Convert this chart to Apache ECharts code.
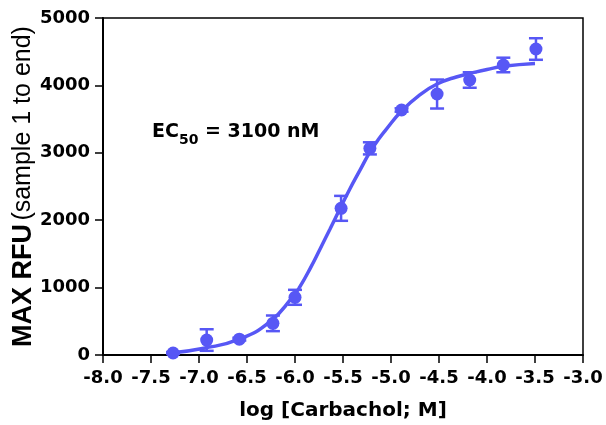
<!DOCTYPE html>
<html>
<head>
<meta charset="utf-8">
<script src="https://cdn.jsdelivr.net/npm/echarts@6/dist/echarts.min.js"></script>
<style>
  html, body { margin: 0; padding: 0; background: #fff; }
  #chart { width: 606px; height: 425px; }
</style>
</head>
<body>
<div id="chart"></div>
<script>
// measured points: log concentration, mean RFU, error (+/-)
const logConc = [-7.27, -6.92, -6.58, -6.23, -6.0, -5.52, -5.22, -4.89, -4.52, -4.18, -3.83, -3.49]
const meanRfu = [30, 222, 235, 470, 856, 2176, 3066, 3635, 3872, 4080, 4303, 4540]
const errRfu = [15, 160, 20, 116, 111, 185, 90, 25, 215, 115, 108, 160]

// fitted curve
const curveX = [-7.27, -6.95, -6.58, -6.26, -6.02, -5.95, -5.84, -5.74, -5.635, -5.53, -5.43, -5.32, -5.22, -5.13, -5.06, -4.89, -4.70, -4.52, -4.32, -4.11, -4.0, -3.83, -3.5]
const curveY = [35, 100, 235, 495, 870, 1010, 1290, 1570, 1870, 2176, 2460, 2750, 3010, 3200, 3330, 3620, 3860, 4020, 4125, 4200, 4235, 4283, 4325]

const xTicks = [-8.0, -7.5, -7.0, -6.5, -6.0, -5.5, -5.0, -4.5, -4.0, -3.5, -3.0]
const yTicks = [0, 1000, 2000, 3000, 4000, 5000]

const blue = '#5757f5'
const tickFont = 'DejaVu Sans'

const chart = echarts.init(document.getElementById('chart'), null, { renderer: 'canvas' })

chart.setOption({
  animation: false,
  grid: {
    left: 103,
    right: 23,
    top: 18,
    bottom: 70,
    outerBoundsMode: 'none',
    show: true,
    borderColor: '#000',
    borderWidth: 1.5
  },
  xAxis: {
    type: 'value',
    min: xTicks[0],
    max: xTicks[xTicks.length - 1],
    interval: 0.5,
    name: 'log [Carbachol; M]',
    nameLocation: 'middle',
    nameGap: 46,
    nameMoveOverlap: false,
    nameTextStyle: { fontFamily: tickFont, fontWeight: 'bold', fontSize: 20, color: '#000' },
    axisLine: { lineStyle: { color: '#000', width: 2 } },
    axisTick: { length: 8, lineStyle: { color: '#000', width: 1.5 } },
    splitLine: { show: false },
    axisLabel: {
      margin: 14,
      color: '#000',
      fontFamily: tickFont,
      fontWeight: 'bold',
      fontSize: 18,
      formatter: (v) => v.toFixed(1)
    }
  },
  yAxis: {
    type: 'value',
    min: yTicks[0],
    max: yTicks[yTicks.length - 1],
    interval: 1000,
    name: '{b|MAX RFU} {n|(sample 1 to end)}',
    nameLocation: 'middle',
    nameGap: 66,
    nameMoveOverlap: false,
    nameTextStyle: {
      rich: {
        b: { fontFamily: 'Liberation Sans', fontWeight: 'bold', fontSize: 27, color: '#000' },
        n: { fontFamily: 'Liberation Sans', fontSize: 25, color: '#000' }
      }
    },
    axisLine: { show: true, lineStyle: { color: '#000', width: 2 } },
    axisTick: { show: true, length: 8, lineStyle: { color: '#000', width: 1.5 } },
    splitLine: { show: false },
    axisLabel: {
      margin: 13,
      color: '#000',
      fontFamily: tickFont,
      fontWeight: 'bold',
      fontSize: 18,
      formatter: (v) => String(v)
    }
  },
  graphic: [
    {
      type: 'text',
      left: 152,
      top: 123,
      style: {
        text: '{a|EC}{s|50}{a| = 3100 nM}',
        rich: {
          a: { fontFamily: tickFont, fontWeight: 'bold', fontSize: 19, fill: '#000', verticalAlign: 'bottom', lineHeight: 21 },
          s: { fontFamily: tickFont, fontWeight: 'bold', fontSize: 14, fill: '#000', verticalAlign: 'bottom', lineHeight: 14, padding: [0, 0, -5, 0] }
        }
      }
    }
  ],
  series: [
    {
      name: 'fit',
      type: 'line',
      data: curveX.map((x, i) => [x, curveY[i]]),
      smooth: 0.5,
      showSymbol: false,
      lineStyle: { color: blue, width: 3.5 },
      z: 2
    },
    {
      name: 'error',
      type: 'custom',
      data: logConc.map((x, i) => [x, meanRfu[i] - errRfu[i], meanRfu[i] + errRfu[i]]),
      renderItem(params, api) {
        const lo = api.coord([api.value(0), api.value(1)])
        const hi = api.coord([api.value(0), api.value(2)])
        const w = 7
        const style = { stroke: blue, lineWidth: 2.5 }
        return {
          type: 'group',
          children: [
            { type: 'line', shape: { x1: lo[0], y1: lo[1], x2: hi[0], y2: hi[1] }, style },
            { type: 'line', shape: { x1: lo[0] - w, y1: lo[1], x2: lo[0] + w, y2: lo[1] }, style },
            { type: 'line', shape: { x1: hi[0] - w, y1: hi[1], x2: hi[0] + w, y2: hi[1] }, style }
          ]
        }
      },
      z: 3
    },
    {
      name: 'mean',
      type: 'scatter',
      data: logConc.map((x, i) => [x, meanRfu[i]]),
      symbol: 'circle',
      symbolSize: 13,
      itemStyle: { color: blue, opacity: 1 },
      z: 4
    }
  ]
})
</script>
</body>
</html>
